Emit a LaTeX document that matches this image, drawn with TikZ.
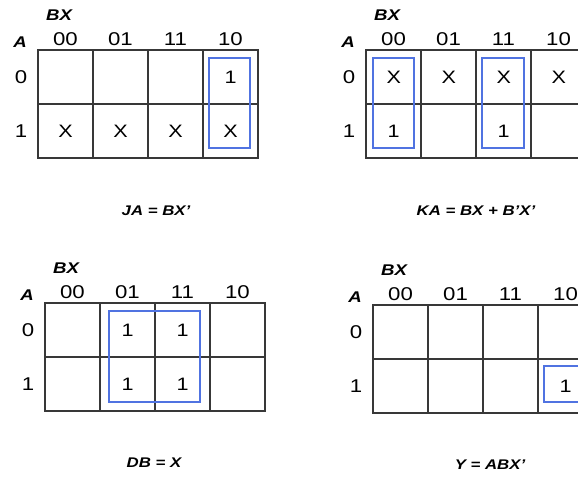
\documentclass[tikz,border=0pt]{standalone}
\usepackage{fontspec}
\setmainfont{Liberation Sans}[FakeStretch=1.2]
\begin{document}
\begin{tikzpicture}[x=1pt,y=-1pt,
  cell/.style={minimum width=55pt,minimum height=54pt,inner sep=0pt,anchor=north west,font=\fontsize{18}{18}\selectfont},
  gridline/.style={draw=black!78,line width=2pt,line cap=rect},
  lbl/.style={inner sep=0pt,font=\fontsize{18.5}{18}\selectfont},
  var/.style={inner sep=0pt,font=\fontsize{15.5}{16}\selectfont\bfseries\itshape},
  eqn/.style={inner sep=0pt,font=\fontsize{14}{14}\selectfont\bfseries\itshape}]
\useasboundingbox (0,0) rectangle (578,483);
\definecolor{loopc}{RGB}{80,115,225}
\tikzset{loop/.style={draw=loopc,line width=1.3pt}}
% map generator
\newcommand\kmap[4]{% name, x0, y0, entries list (8 items r0c0..r0c3,r1c0..r1c3)
  \node[var] (#1bx) at (#2+21,#3-35) {BX};
  \node[var] (#1a) at (#2-18,#3-8) {A};
  \foreach \lab [count=\i from 0] in {00,01,11,10}
    \node[lbl] (#1col\i) at (#2+27.5+\i*55,#3-11) {\lab};
  \node[lbl] (#1row0) at (#2-17,#3+27) {0};
  \node[lbl] (#1row1) at (#2-17,#3+81) {1};
  \foreach \v [count=\k from 0] in {#4} {
    \pgfmathtruncatemacro\r{\k/4}
    \pgfmathtruncatemacro\c{mod(\k,4)}
    \node[cell] (#1c\r\c) at (#2+\c*55,#3+\r*54) {\v};
  }
  \draw[gridline] (#1c00.north west) rectangle (#1c13.south east);
  \draw[gridline] (#1c00.south west) -- (#1c03.south east);
  \foreach \c in {1,2,3}
    \draw[gridline] (#1c0\c.north west) -- (#1c1\c.south west);
}
\kmap{m1}{38}{50}{{},{},{},1,X,X,X,X}
\kmap{m2}{366}{50}{X,X,X,X,1,{},1,{}}
\kmap{m3}{45}{303}{{},1,1,{},{},1,1,{}}
\kmap{m4}{373}{305}{{},{},{},{},{},{},{},1}
% loops
\draw[loop] (209,58) rectangle (250,148);
\draw[loop] (373,58) rectangle (414,148);
\draw[loop] (482,58) rectangle (524,148);
\draw[loop] (109,311) rectangle (200,402);
\draw[loop] (544,366) rectangle (590,402);
% equations
\node[eqn] (e1) at (156,211) {JA = BX'};
\node[eqn] (e2) at (476,211) {KA = BX + B'X'};
\node[eqn] (e3) at (154,463) {DB = X};
\node[eqn] (e4) at (490,465) {Y = ABX'};
\end{tikzpicture}
\end{document}
